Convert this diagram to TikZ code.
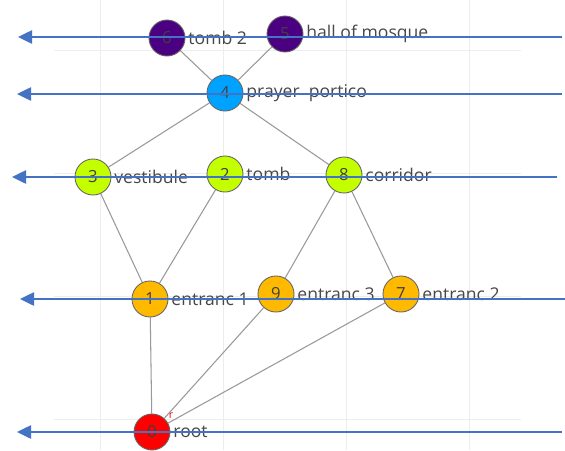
\documentclass[tikz,border=0pt]{standalone}
\usepackage{fontspec}
\setmainfont{Open Sans}
\usepackage{tikz}
\usetikzlibrary{arrows.meta,backgrounds}
\definecolor{plum}{HTML}{4B0082}
\definecolor{sky}{HTML}{00A2FF}
\definecolor{lime}{HTML}{C4FF00}
\definecolor{amber}{HTML}{FFBA00}
\definecolor{arrowblue}{HTML}{4472C4}
\tikzset{
  room/.style={circle, draw=black!60, line width=0.5pt, minimum size=20.5pt,
    inner sep=0pt, font=\fontsize{9.5}{11}\selectfont, text=black!75},
  tag/.style={font=\fontsize{10}{12}\selectfont, text=black!72, inner sep=1.5pt},
  link/.style={gray!80, line width=0.6pt},
  level/.style={arrowblue, line width=1.2pt, -{Triangle[length=8pt,width=7.5pt]}}
}
\begin{document}
\begin{tikzpicture}[x=0.02cm, y=-0.02cm]
    \useasboundingbox (0,0) rectangle (565,450);
    % rooms
    \node[room, fill=plum]  (n6) at (167,38)  {6};
    \node[room, fill=plum]  (n5) at (285,34)  {5};
    \node[room, fill=sky]   (n4) at (225,93)  {4};
    \node[room, fill=lime]  (n3) at (93,177)  {3};
    \node[room, fill=lime]  (n2) at (225,174) {2};
    \node[room, fill=lime]  (n8) at (344,175) {8};
    \node[room, fill=amber] (n1) at (150,299) {1};
    \node[room, fill=amber] (n9) at (276,294) {9};
    \node[room, fill=amber] (n7) at (401,294) {7};
    \node[room, fill=red]   (n0) at (152,432) {0};
    % names
    \node[tag, anchor=west] at (n6.east) {tomb\ 2};
    \node[tag, anchor=west] at (n5.east) {hall of mosque};
    \node[tag, anchor=west] at (n4.east) {prayer\ \ portico};
    \node[tag, anchor=west] at (n3.east) {vestibule};
    \node[tag, anchor=west] at (n2.east) {tomb};
    \node[tag, anchor=west] at (n8.east) {corridor};
    \node[tag, anchor=west] at (n1.east) {entranc 1};
    \node[tag, anchor=west] at (n9.east) {entranc 3};
    \node[tag, anchor=west] at (n7.east) {entranc 2};
    \node[tag, anchor=west] at (n0.east) {root};
    \node[red, font=\fontsize{6}{6}\selectfont, inner sep=0pt] (rmark) at (171,416) {r};
    \begin{pgfonlayer}{background}
      \fill[white] (0,0) rectangle (565,450);
      % faint background grid
      \foreach \x in {100,223,346,469}
        \draw[black!7, line width=0.5pt] (\x,0) -- (\x,450);
      \foreach \y in {50,173,296,419}
        \draw[black!7, line width=0.5pt] (54,\y) -- (521,\y);
      % links
      \foreach \a/\b in {n6/n4,n5/n4,n4/n3,n4/n8,n3/n1,n2/n1,n8/n9,n8/n7,n1/n0,n9/n0,n7/n0}
        \draw[link] (\a) -- (\b);
    \end{pgfonlayer}
    % level arrows
    \coordinate (r1) at (562,37);  \coordinate (l1) at (18,37);
    \coordinate (r2) at (562,94);  \coordinate (l2) at (17,94);
    \coordinate (r3) at (557,177); \coordinate (l3) at (12,177);
    \coordinate (r4) at (565,299); \coordinate (l4) at (20,299);
    \coordinate (r5) at (562,432); \coordinate (l5) at (17,432);
    \foreach \i in {1,...,5}
      \draw[level] (r\i) -- (l\i);
\end{tikzpicture}
\end{document}
